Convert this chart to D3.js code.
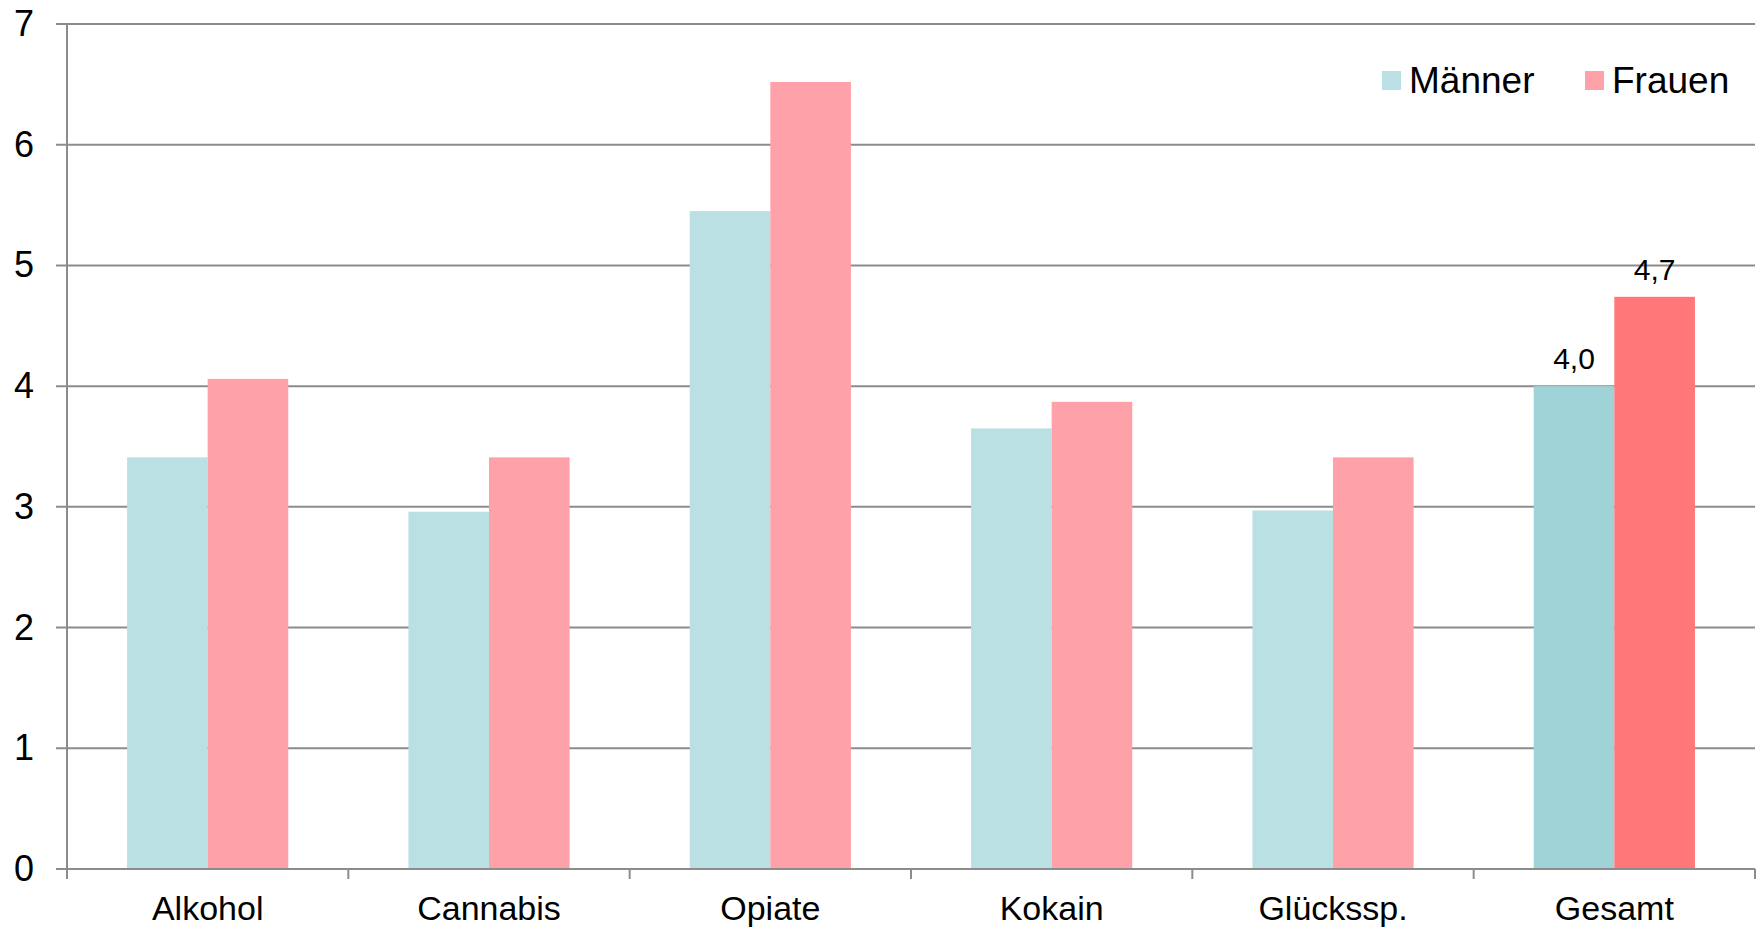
<!DOCTYPE html>
<html>
<head>
<meta charset="utf-8">
<script src="https://cdn.jsdelivr.net/npm/d3@7"></script>
<style>
  body { margin: 0; background: #fff; }
  svg text { font-family: "Liberation Sans", Arial, sans-serif; fill: #000; }
</style>
</head>
<body>
<script>
// data
var categories = ["Alkohol", "Cannabis", "Opiate", "Kokain", "Glücksspiel", "Gesamt"];
var catLabels = ["Alkohol", "Cannabis", "Opiate", "Kokain", "Glückssp.", "Gesamt"];
var maenner = [3.41, 2.96, 5.45, 3.65, 2.97, 4.0];
var frauen = [4.06, 3.41, 6.52, 3.87, 3.41, 4.74];
var seriesNames = ["Männer", "Frauen"];
var yTicks = [0, 1, 2, 3, 4, 5, 6, 7];
var labelled = ["Gesamt"];

var colors = { "Männer": "#bbe0e3", "Frauen": "#ffa1a9" },
    colorsHi = { "Männer": "#9fd3d7", "Frauen": "#ff7779" };

var W = 1762, H = 928,
    pLeft = 67, pRight = 1755, pTop = 24, pBottom = 869;

var svg = d3.select("body").append("svg")
    .attr("width", W)
    .attr("height", H);

var x = d3.scaleBand().domain(categories).range([pLeft, pRight]).padding(0);
var gap = x.bandwidth() * 0.2135;
var x1 = d3.scaleBand().domain(seriesNames).range([gap, x.bandwidth() - gap]).padding(0);
var y = d3.scaleLinear().domain([0, 7]).range([pBottom, pTop]);

// gridlines
svg.append("g")
    .selectAll("line")
    .data(yTicks)
    .enter().append("line")
    .attr("x1", pLeft - 11)
    .attr("x2", pRight)
    .attr("y1", function(d) { return y(d); })
    .attr("y2", function(d) { return y(d); })
    .attr("stroke", "#8c8c8c")
    .attr("stroke-width", 2);

// y labels
var yAxis = svg.append("g")
    .attr("transform", "translate(" + pLeft + ",0)")
    .call(d3.axisLeft(y).tickValues(yTicks).tickSize(0).tickPadding(33).tickFormat(d3.format("d")));
yAxis.select(".domain").remove();
yAxis.selectAll("text")
    .attr("font-size", "36px")
    .attr("font-family", "Liberation Sans, Arial, sans-serif");

var rows = [];
categories.forEach(function(c, i) {
    rows.push({ cat: c, series: "Männer", value: maenner[i] });
    rows.push({ cat: c, series: "Frauen", value: frauen[i] });
});

function isHi(d) { return labelled.indexOf(d.cat) >= 0; }

svg.append("g")
    .selectAll("rect")
    .data(rows)
    .enter().append("rect")
    .attr("x", function(d) { return x(d.cat) + x1(d.series); })
    .attr("y", function(d) { return y(d.value); })
    .attr("width", x1.bandwidth())
    .attr("height", function(d) { return y(0) - y(d.value); })
    .attr("fill", function(d) { return isHi(d) ? colorsHi[d.series] : colors[d.series]; });

// value labels on Gesamt
var fmt = function(v) { return d3.format(".1f")(v).replace(".", ","); };
svg.append("g")
    .selectAll("text")
    .data(rows.filter(isHi))
    .enter().append("text")
    .attr("x", function(d) { return x(d.cat) + x1(d.series) + x1.bandwidth() / 2; })
    .attr("y", function(d) { return y(d.value) - 17; })
    .attr("text-anchor", "middle")
    .attr("font-size", "30px")
    .text(function(d) { return fmt(d.value); });

// x axis line and ticks
svg.append("line")
    .attr("x1", pLeft).attr("x2", pRight)
    .attr("y1", pBottom).attr("y2", pBottom)
    .attr("stroke", "#8c8c8c").attr("stroke-width", 2);
svg.append("line")
    .attr("x1", pLeft).attr("x2", pLeft)
    .attr("y1", pTop).attr("y2", pBottom + 10)
    .attr("stroke", "#8c8c8c").attr("stroke-width", 2);
var bounds = categories.map(function(c) { return x(c); }).concat([pRight]);
svg.append("g")
    .selectAll("line")
    .data(bounds)
    .enter().append("line")
    .attr("x1", function(d) { return d; })
    .attr("x2", function(d) { return d; })
    .attr("y1", pBottom)
    .attr("y2", pBottom + 10)
    .attr("stroke", "#8c8c8c")
    .attr("stroke-width", 2);

var xAxis = svg.append("g")
    .attr("transform", "translate(0," + pBottom + ")")
    .call(d3.axisBottom(x).tickSize(0).tickPadding(0).tickFormat(function(d, i) { return catLabels[i]; }));
xAxis.select(".domain").remove();
xAxis.selectAll("text")
    .attr("dy", null)
    .attr("y", 51)
    .attr("font-size", "34px")
    .attr("font-family", "Liberation Sans, Arial, sans-serif");

// legend
var legendX = [1382, 1585];
var legend = svg.append("g")
    .selectAll("g")
    .data(seriesNames)
    .enter().append("g")
    .attr("transform", function(d, i) { return "translate(" + legendX[i] + ",71)"; });
legend.append("rect")
    .attr("width", 19).attr("height", 19)
    .attr("fill", function(d) { return colors[d]; });
legend.append("text")
    .attr("x", 27)
    .attr("y", 22)
    .attr("font-size", "37px")
    .text(function(d) { return d; });
</script>
</body>
</html>
